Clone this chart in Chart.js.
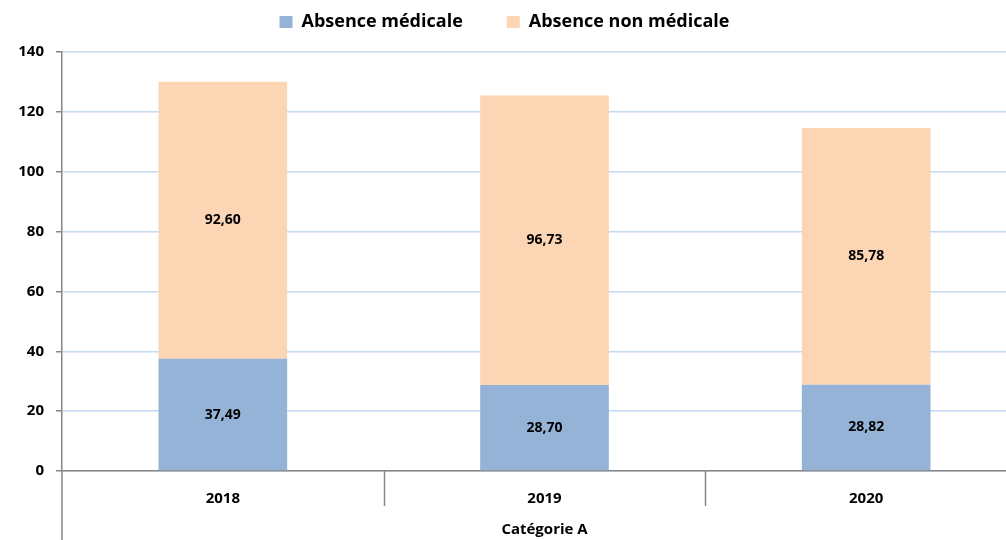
<!DOCTYPE html>
<html>
<head>
<meta charset="utf-8">
<script src="https://cdn.jsdelivr.net/npm/chart.js@4/dist/chart.umd.min.js"></script>
<style>
  html, body { margin: 0; padding: 0; background: #fff; overflow: hidden; }
  #wrap { width: 1006px; height: 540px; overflow: hidden; }
</style>
</head>
<body>
<div id="wrap"><canvas id="myChart" width="1027" height="540"></canvas></div>
<script>
const years = ['2018', '2019', '2020'];
const groupLabel = 'Catégorie A';
const medical = [37.49, 28.70, 28.82];
const nonMedical = [92.60, 96.73, 85.78];
const yTicks = [0, 20, 40, 60, 80, 100, 120, 140];

const blueColor = '#95b3d7';
const peachColor = '#fcd5b5';
const axisGrey = '#868686';
const gridBlue = '#c6d9f1';
const fontName = '"Open Sans", sans-serif';

// legend spacing, value labels inside the bars, category separators
const extras = {
    id: 'extras',
    beforeLayout(chart) {
        const lg = chart.legend;
        if (lg && !lg._patched) {
            const fit = lg.fit.bind(lg);
            lg.fit = function () {
                fit();
                this.height += 11;
            };
            lg._patched = true;
        }
    },
    afterLayout(chart) {
        // the plot runs past the right edge of the picture, keep legend centred on what is visible
        chart.legend.left -= 9;
        chart.legend.right -= 9;
    },
    afterDatasetsDraw(chart) {
        const ctx = chart.ctx;
        ctx.save();
        ctx.font = 'bold 14px ' + fontName;
        ctx.fillStyle = '#000';
        ctx.textAlign = 'center';
        ctx.textBaseline = 'middle';
        chart.data.datasets.forEach((ds, di) => {
            chart.getDatasetMeta(di).data.forEach((bar, i) => {
                const mid = (bar.y + bar.base) / 2;
                ctx.fillText(ds.data[i].toFixed(2).replace('.', ','), bar.x, mid);
            });
        });
        ctx.restore();
    },
    afterDraw(chart) {
        const ctx = chart.ctx;
        const x = chart.scales.x;
        const y = chart.scales.y;
        ctx.save();
        ctx.strokeStyle = axisGrey;
        ctx.lineWidth = 1.5;
        for (let i = 1; i < years.length; i++) {
            const px = Math.round((x.getPixelForValue(i - 1) + x.getPixelForValue(i)) / 2) + 0.5;
            ctx.beginPath();
            ctx.moveTo(px, y.bottom);
            ctx.lineTo(px, y.bottom + 35);
            ctx.stroke();
        }
        ctx.beginPath();
        ctx.moveTo(y.right, y.bottom);
        ctx.lineTo(y.right, chart.height);
        ctx.stroke();
        ctx.restore();
    }
};

new Chart(document.getElementById('myChart'), {
    type: 'bar',
    data: {
        labels: years,
        datasets: [
            { label: 'Absence médicale', data: medical, backgroundColor: blueColor },
            { label: 'Absence non médicale', data: nonMedical, backgroundColor: peachColor }
        ]
    },
    options: {
        responsive: false,
        animation: false,
        layout: { padding: { left: 0, right: 0, top: -31, bottom: 0 } },
        datasets: { bar: { barPercentage: 0.40, categoryPercentage: 1 } },
        plugins: {
            tooltip: { enabled: false },
            legend: {
                position: 'top',
                labels: {
                    boxWidth: 13,
                    boxHeight: 12,
                    padding: 44,
                    color: '#000',
                    font: { family: fontName, size: 18, weight: 'bold' }
                }
            }
        },
        scales: {
            x: {
                stacked: true,
                grid: { display: false },
                border: { color: axisGrey, width: 1.5 },
                ticks: { color: '#000', padding: 11, font: { family: fontName, size: 15, weight: 'bold' } },
                title: {
                    display: true,
                    text: groupLabel,
                    color: '#000',
                    padding: { top: 0, bottom: 1 },
                    font: { family: fontName, size: 15, weight: 'bold' }
                },
                afterFit: s => { s.height = 69; }
            },
            y: {
                stacked: true,
                min: 0,
                max: 140,
                afterBuildTicks: s => { s.ticks = yTicks.map(v => ({ value: v })); },
                grid: { color: gridBlue, lineWidth: 1.5, tickColor: axisGrey, tickLength: 6 },
                border: { color: axisGrey, width: 1.5 },
                ticks: { color: '#000', padding: 12, font: { family: fontName, size: 15, weight: 'bold' } },
                afterFit: s => { s.width = 62; }
            }
        }
    },
    plugins: [extras]
});
</script>
</body>
</html>
